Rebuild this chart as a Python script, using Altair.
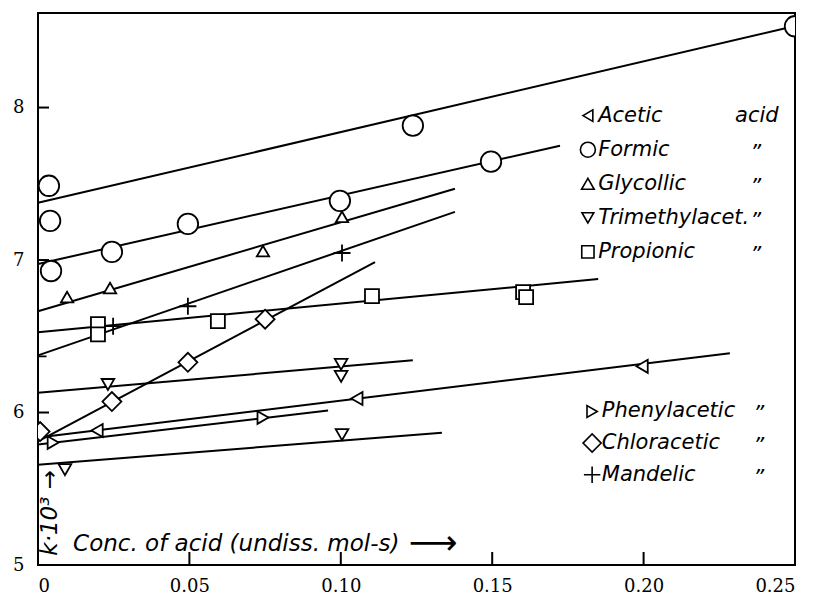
import altair as alt
import pandas as pd

# ---------------- data ----------------
acetic_x = [0.0195, 0.1053, 0.1995]
acetic_y = [5.882, 6.092, 6.303]
formic_x = [0.0036, 0.0040, 0.0043, 0.0244, 0.0495, 0.0997, 0.1238, 0.1496, 0.2500]
formic_y = [7.487, 7.257, 6.928, 7.053, 7.237, 7.388, 7.882, 7.645, 8.533]
glycollic_x = [0.0096, 0.0238, 0.0743, 0.1004]
glycollic_y = [6.757, 6.816, 7.059, 7.283]
trimethyl_x = [0.0089, 0.0231, 0.1001, 0.1001, 0.1004]
trimethyl_y = [5.625, 6.184, 6.316, 6.237, 5.855]
propionic_x = [0.0198, 0.0198, 0.0594, 0.1103, 0.1602, 0.1612]
propionic_y = [6.579, 6.513, 6.599, 6.763, 6.789, 6.757]
phenyl_x = [0.0050, 0.0743]
phenyl_y = [5.803, 5.967]
chlor_x = [0.0007, 0.0244, 0.0495, 0.0750]
chlor_y = [5.875, 6.072, 6.329, 6.612]
mandelic_x = [0.0, 0.0248, 0.0495, 0.1004]
mandelic_y = [6.368, 6.566, 6.697, 7.046]

# fitted straight lines (start / end) as drawn
line_acid = ["Formic", "Formic", "Glycollic", "Mandelic", "Chloracetic", "Propionic",
             "Trimethylacet.", "Trimethylacet.", "Acetic", "Phenylacetic"]
line_x0 = [0, 0, 0, 0, 0, 0, 0, 0, 0, 0]
line_y0 = [7.375, 6.974, 6.664, 6.375, 5.81, 6.526, 6.13, 5.658, 5.836, 5.79]
line_x1 = [0.25, 0.1724, 0.1377, 0.1377, 0.1113, 0.185, 0.1238, 0.1334, 0.2285, 0.0958]
line_y1 = [8.535, 7.75, 7.467, 7.316, 6.987, 6.875, 6.342, 5.868, 6.388, 6.013]

legend_upper = ["Acetic", "Formic", "Glycollic", "Trimethylacet.", "Propionic"]
legend_upper_suffix = ["acid", "\u201d", "\u201d", "\u201d", "\u201d"]
legend_lower = ["Phenylacetic", "Chloracetic", "Mandelic"]

x_tick_values = [0, 0.05, 0.10, 0.15, 0.20, 0.25]
y_tick_values = [5, 6, 7, 8]
x_inner_ticks = [0.05, 0.10, 0.15, 0.20]
y_inner_ticks = [6, 7, 8]

x_title = "Conc. of acid (undiss. mol-s)"
x_arrow = "\u27f6"
y_title = "k\u00b710\u00b3 \u2192"

# ---------------- styles ----------------
PLUS = "M-1,0H1M0,-1V1"
shape_of = {"Acetic": "triangle-left", "Formic": "circle", "Glycollic": "triangle-up",
            "Trimethylacet.": "triangle-down", "Propionic": "square",
            "Phenylacetic": "triangle-right", "Chloracetic": "diamond", "Mandelic": PLUS}
size_of = {"Acetic": 170, "Formic": 420, "Glycollic": 150, "Trimethylacet.": 160,
           "Propionic": 196, "Phenylacetic": 160, "Chloracetic": 360, "Mandelic": 289}
legend_size_of = {"Acetic": 130, "Formic": 225, "Glycollic": 160, "Trimethylacet.": 140,
                  "Propionic": 150, "Phenylacetic": 140, "Chloracetic": 330, "Mandelic": 270}

series = [("Acetic", acetic_x, acetic_y), ("Formic", formic_x, formic_y),
          ("Glycollic", glycollic_x, glycollic_y), ("Trimethylacet.", trimethyl_x, trimethyl_y),
          ("Propionic", propionic_x, propionic_y), ("Phenylacetic", phenyl_x, phenyl_y),
          ("Chloracetic", chlor_x, chlor_y), ("Mandelic", mandelic_x, mandelic_y)]
rows = []
for name, xs, ys in series:
    for xv, yv in zip(xs, ys):
        rows.append({"acid": name, "x": xv, "y": yv,
                     "shape": shape_of[name], "size": size_of[name]})
pts = pd.DataFrame(rows)

lines = pd.DataFrame({"acid": line_acid, "x0": line_x0, "y0": line_y0,
                      "x1": line_x1, "y1": line_y1})

# legend table (layout computed here)
leg_rows = []
for i, (name, suf) in enumerate(zip(legend_upper, legend_upper_suffix)):
    leg_rows.append({"acid": name, "suffix": suf, "ly": 7.947 - i * 0.2235,
                     "sx": 0.1816, "tx": 0.1850,
                     "qx": 0.2302 if suf == "acid" else 0.2352,
                     "dy": 0 if suf == "acid" else 4})
for i, name in enumerate(legend_lower):
    leg_rows.append({"acid": name, "suffix": "\u201d", "ly": 6.007 - i * 0.2075,
                     "sx": 0.1830, "tx": 0.1862, "qx": 0.2362, "dy": 4})
leg = pd.DataFrame(leg_rows)
leg["shape"] = leg["acid"].map(shape_of)
leg["size"] = leg["acid"].map(legend_size_of)
leg_word = leg[leg["dy"] == 0]
leg_quote = leg[leg["dy"] != 0]

XD = [0, 0.25]
YD = [5, 8.62]
xs_ = alt.Scale(domain=XD, nice=False, zero=False)
ys_ = alt.Scale(domain=YD, nice=False, zero=False)

W, H = 757, 552
SERIF = "DejaVu Serif"
SANS = "DejaVu Sans"

x_axis = alt.Axis(values=x_tick_values, ticks=False, domain=False, grid=False,
                  labelFont=SERIF, labelFontSize=18, labelColor="black",
                  labelPadding=12, title=None,
                  labelExpr="datum.value == 0 ? '0' : format(datum.value, '.2f')")
y_axis = alt.Axis(values=y_tick_values, ticks=False, domain=False, grid=False,
                  labelFont=SERIF, labelFontSize=18, labelColor="black",
                  labelPadding=14, title=None,
                  labelExpr="format(datum.value, 'd')")

base_lines = alt.Chart(lines).mark_rule(color="black", strokeWidth=2).encode(
    x=alt.X("x0:Q", scale=xs_, axis=x_axis),
    y=alt.Y("y0:Q", scale=ys_, axis=y_axis),
    x2="x1:Q", y2="y1:Q")

xt = alt.Chart(pd.DataFrame({"v": x_inner_ticks})).mark_rule(color="black", strokeWidth=2).encode(
    x=alt.X("v:Q", scale=xs_), y=alt.value(H), y2=alt.value(H - 13))
yt = alt.Chart(pd.DataFrame({"v": y_inner_ticks})).mark_rule(color="black", strokeWidth=2).encode(
    y=alt.Y("v:Q", scale=ys_), x=alt.value(0), x2=alt.value(11))

points = alt.Chart(pts).mark_point(fill="white", stroke="black", strokeWidth=1.8,
                                   opacity=1, fillOpacity=1, clip=True).encode(
    x=alt.X("x:Q", scale=xs_), y=alt.Y("y:Q", scale=ys_),
    shape=alt.Shape("shape:N", scale=None),
    size=alt.Size("size:Q", scale=None))

leg_sym = alt.Chart(leg).mark_point(fill="white", stroke="black", strokeWidth=1.6,
                                    opacity=1, fillOpacity=1).encode(
    x=alt.X("sx:Q", scale=xs_), y=alt.Y("ly:Q", scale=ys_),
    shape=alt.Shape("shape:N", scale=None),
    size=alt.Size("size:Q", scale=None))

leg_txt = alt.Chart(leg).mark_text(font=SANS, fontStyle="italic", fontSize=21,
                                   align="left", baseline="middle", color="black").encode(
    x=alt.X("tx:Q", scale=xs_), y=alt.Y("ly:Q", scale=ys_), text="acid:N")

leg_w = alt.Chart(leg_word).mark_text(font=SANS, fontStyle="italic", fontSize=21,
                                      align="left", baseline="middle", color="black").encode(
    x=alt.X("qx:Q", scale=xs_), y=alt.Y("ly:Q", scale=ys_), text="suffix:N")
leg_q = alt.Chart(leg_quote).mark_text(font=SANS, fontStyle="italic", fontSize=21,
                                       align="left", baseline="middle", color="black", dy=4).encode(
    x=alt.X("qx:Q", scale=xs_), y=alt.Y("ly:Q", scale=ys_), text="suffix:N")

titles = pd.DataFrame({"t": [x_title], "x": [0.0116], "y": [5.138]})
xtitle = alt.Chart(titles).mark_text(font=SANS, fontStyle="italic", fontSize=23,
                                     align="left", baseline="middle", color="black").encode(
    x=alt.X("x:Q", scale=xs_), y=alt.Y("y:Q", scale=ys_), text="t:N")
arrows = pd.DataFrame({"t": [x_arrow], "x": [0.1305], "y": [5.14]})
xarrow = alt.Chart(arrows).mark_text(font=SANS, fontSize=34, align="center",
                                     baseline="middle", color="black").encode(
    x=alt.X("x:Q", scale=xs_), y=alt.Y("y:Q", scale=ys_), text="t:N")
ytitles = pd.DataFrame({"t": [y_title], "x": [0.0040], "y": [5.342]})
ytitle = alt.Chart(ytitles).mark_text(font=SANS, fontStyle="italic", fontSize=23, angle=270,
                                      align="center", baseline="middle", color="black").encode(
    x=alt.X("x:Q", scale=xs_), y=alt.Y("y:Q", scale=ys_), text="t:N")

chart = alt.layer(base_lines, xt, yt, points, leg_sym, leg_txt, leg_w, leg_q,
                  xtitle, xarrow, ytitle).properties(
    width=W, height=H, autosize="none",
    padding={"left": 30, "top": 5, "right": 12, "bottom": 30},
    background="white",
).configure_view(stroke="black", strokeWidth=2)

chart.save("out.html", embed_options={"renderer": "svg", "actions": False})
